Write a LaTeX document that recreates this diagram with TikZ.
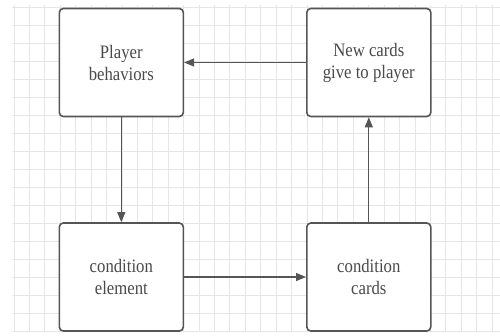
\documentclass[tikz,border=0pt]{standalone}
\usepackage{fontspec}
\setmainfont{Liberation Serif}[FakeStretch=0.88]
\usetikzlibrary{arrows.meta}
\definecolor{edgec}{HTML}{555555}
\definecolor{txtc}{HTML}{4A4A4A}
\definecolor{gridc}{HTML}{E6E6E6}
\begin{document}
\begin{tikzpicture}[x=1pt,y=-1pt,
  box/.style={draw=edgec, line width=1.6pt, rounded corners=4pt, fill=white,
    minimum width=124pt, minimum height=108pt, inner sep=0pt, align=center,
    text=txtc, font=\fontsize{19}{22}\selectfont},
  link/.style={draw=edgec, line width=1.2pt, -{Triangle[length=10pt,width=8pt]}},
  gridline/.style={draw=gridc, line width=0.8pt}]
\useasboundingbox (0,0) rectangle (500,335);
\foreach \i in {0,...,31} \draw[gridline] ({14+15.42*\i},5) -- ({14+15.42*\i},332);
\foreach \j in {0,...,18} \draw[gridline] (12,{7+18*\j}) -- (500,{7+18*\j});
\node[box] (pb) at (121.3,62.5) {Player\\behaviors};
\node[box] (nc) at (368.8,62.5) {New cards\\give to player};
\node[box] (ce) at (121.3,277) {condition\\element};
\node[box] (cc) at (368.8,277) {condition\\cards};
\draw[link] (nc) -- (pb);
\draw[link] (pb) -- (ce);
\draw[link] (ce) -- (cc);
\draw[link] (cc) -- (nc);
\end{tikzpicture}
\end{document}
